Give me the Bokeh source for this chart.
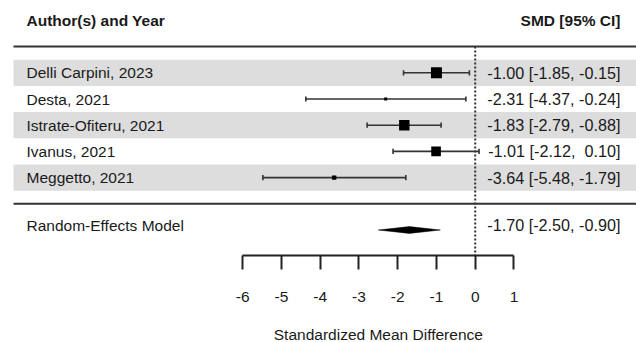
from bokeh.plotting import figure
from bokeh.models import Range1d, FixedTicker
from bokeh.core.properties import value
from bokeh.embed import file_html
from bokeh.resources import INLINE

# ---- data ----
studies = ["Delli Carpini, 2023", "Desta, 2021", "Istrate-Ofiteru, 2021",
           "Ivanus, 2021", "Meggetto, 2021"]
smd = [-1.00, -2.31, -1.83, -1.01, -3.64]
ci_lo = [-1.85, -4.37, -2.79, -2.12, -5.48]
ci_hi = [-0.15, -0.24, -0.88, 0.10, -1.79]
weights = [28.5, 8.0, 27.0, 25.0, 11.5]   # estimated relative weights (%)
re_est = -1.70
re_lo = -2.50
re_hi = -0.90
tick_values = [-6, -5, -4, -3, -2, -1, 0, 1]
tick_labels = ["-6", "-5", "-4", "-3", "-2", "-1", "0", "1"]
left_header = "Author(s) and Year"
right_header = "SMD [95% CI]"
re_name = "Random-Effects Model"
x_title = "Standardized Mean Difference"

# ---- layout constants (figure px) ----
W, H = 636, 342
SX = 38.75                              # px per SMD unit
X0_PX = 474.7                           # px of SMD = 0
X_START = -X0_PX / SX
X_END = (W - X0_PX) / SX
SY = 26.2                               # px per row
ROW5_PX = 72.3                          # px of the first study row (y = 5)


def py2y(py):
    return 5 - (py - ROW5_PX) / SY


def px2x(px):
    return X_START + px / SX


Y_END = py2y(0)
Y_START = py2y(H)
AXIS_Yv = py2y(255)
TITLE_Yv = py2y(333.5)
FONT = value("Liberation Sans")
FS = "15.5px"
FS_CI = "16.2px"
TXT = "#1a1a1a"
LINE = "#333333"


def fmt(m, l, h):
    s = f"{m:.2f} [{l:5.2f}, {h:5.2f}]"
    return s.replace(" ", "\u00a0")


n = len(studies)
rows = [n - i for i in range(n)]           # 5 .. 1
ci_text = [fmt(m, l, h) for m, l, h in zip(smd, ci_lo, ci_hi)]
sizes = [w * 0.385 for w in weights]
re_row = -1.0

p = figure(width=W, height=H, x_range=Range1d(X_START, X_END),
           y_range=Range1d(Y_START, Y_END), output_backend="svg",
           toolbar_location=None, min_border=0, y_axis_location=None)
p.grid.visible = False
p.outline_line_color = None
p.background_fill_color = "white"

# alternating bands
band_rows = [r for i, r in enumerate(rows) if i % 2 == 0]
p.quad(left=px2x(13), right=X_END, top=[r + 0.5 for r in band_rows],
       bottom=[r - 0.5 for r in band_rows], fill_color="#dddddd", line_color=None)

# horizontal rules
p.segment(x0=[px2x(13)] * 2, x1=[X_END] * 2, y0=[n + 1, 0], y1=[n + 1, 0],
          line_color=LINE, line_width=2)

# reference line at 0
p.segment(x0=[0], x1=[0], y0=[n + 1], y1=[AXIS_Yv], line_color=LINE,
          line_width=2, line_dash="2 2")

# confidence intervals
p.segment(x0=ci_lo, x1=ci_hi, y0=rows, y1=rows, line_color=LINE, line_width=1.6)
cap = 0.1
p.segment(x0=ci_lo + ci_hi, x1=ci_lo + ci_hi, y0=[r - cap for r in rows] * 2,
          y1=[r + cap for r in rows] * 2, line_color=LINE, line_width=1.6)
p.scatter(x=smd, y=rows, size=sizes, marker="square", fill_color="black",
          line_color=None)

# summary diamond
dh = 0.13
p.patch(x=[re_lo, re_est, re_hi, re_est], y=[re_row, re_row + dh, re_row, re_row - dh],
        fill_color="black", line_color="black", line_width=0.5)

# texts
p.text(x=[px2x(26)], y=[7.0], text=[left_header], text_font=FONT, text_font_size=FS,
       text_font_style="bold", text_color=TXT, text_baseline="middle", text_align="left")
p.text(x=[px2x(620)], y=[7.0], text=[right_header], text_font=FONT, text_font_size=FS,
       text_font_style="bold", text_color=TXT, text_baseline="middle", text_align="right")
p.text(x=[px2x(26)] * n, y=rows, text=studies, text_font=FONT, text_font_size=FS,
       text_color=TXT, text_baseline="middle", text_align="left")
p.text(x=[px2x(620)] * n, y=rows, text=ci_text, text_font=FONT, text_font_size=FS_CI,
       text_color=TXT, text_baseline="middle", text_align="right")
p.text(x=[px2x(26)], y=[-0.82], text=[re_name], text_font=FONT, text_font_size=FS,
       text_color=TXT, text_baseline="middle", text_align="left")
p.text(x=[px2x(620)], y=[-0.82], text=[fmt(re_est, re_lo, re_hi)], text_font=FONT,
       text_font_size=FS_CI, text_color=TXT, text_baseline="middle", text_align="right")

# axis title, centred under the bounded axis (-6 .. 1)
p.text(x=[(tick_values[0] + tick_values[-1]) / 2], y=[TITLE_Yv], text=[x_title],
       text_font=FONT, text_font_size=FS, text_color=TXT, text_baseline="middle",
       text_align="center")

# axis, fixed inside the frame
ax = p.xaxis[0]
ax.fixed_location = AXIS_Yv
ax.bounds = (tick_values[0], tick_values[-1])
ax.ticker = FixedTicker(ticks=tick_values)
ax.major_label_overrides = {t: s for t, s in zip(tick_values, tick_labels)}
ax.major_tick_in = 0
ax.major_tick_out = 14
ax.minor_tick_in = 0
ax.minor_tick_out = 0
ax.axis_line_width = 2
ax.axis_line_color = "#222222"
ax.major_tick_line_width = 2
ax.major_tick_line_color = "#222222"
ax.major_label_text_font = "Liberation Sans"
ax.major_label_text_font_size = FS
ax.major_label_text_color = TXT
ax.major_label_standoff = 22

open("out.html", "w").write(file_html(p, INLINE))
